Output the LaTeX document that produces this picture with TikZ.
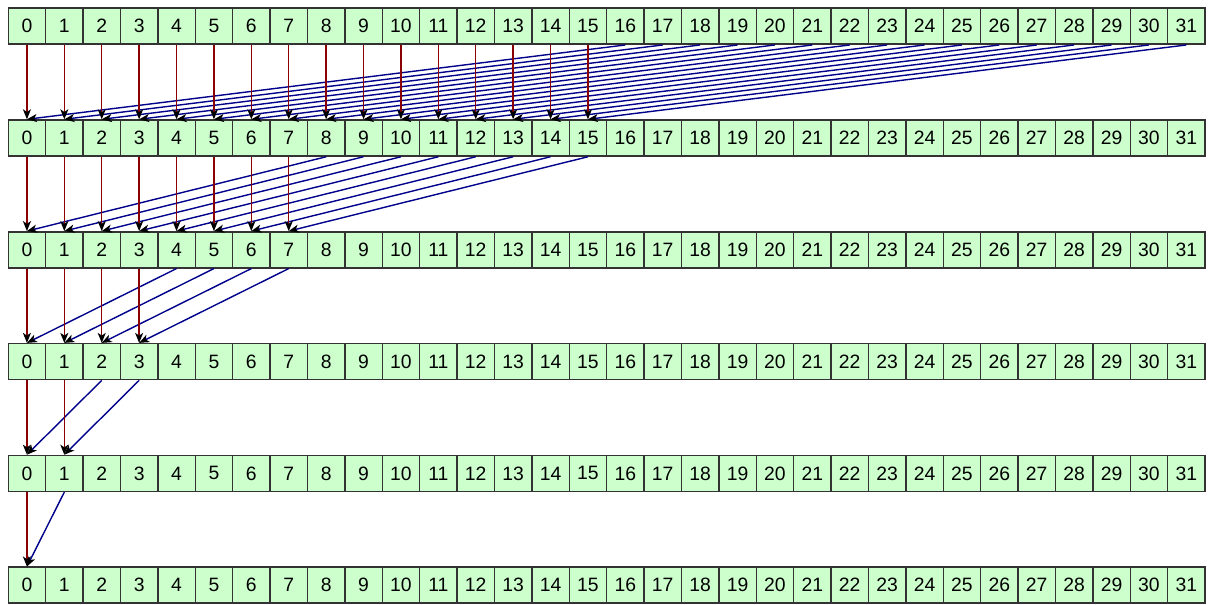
\documentclass[tikz,border=0pt]{standalone}
\usepackage{fontspec}
\setmainfont{Liberation Sans}
\usetikzlibrary{arrows.meta}
\definecolor{cellfill}{HTML}{CCFFCC}
\definecolor{redl}{HTML}{8B0000}
\definecolor{bluel}{HTML}{00008B}
\begin{document}
\begin{tikzpicture}[x=0.75pt,y=-0.75pt,
  cell/.style={draw=black!80, fill=cellfill, line width=1.1pt,
    minimum width=28.05pt, minimum height=27pt, inner sep=0pt,
    font=\fontsize{14.5}{15}\selectfont, anchor=north west},
  tip/.style={-{Stealth[length=7.5pt,width=6pt,inset=2pt,black]}},
  redarrow/.style={tip, draw=redl, line width=1.05pt},
  bluearrow/.style={tip, draw=bluel, line width=1.05pt}]
\useasboundingbox (0,0) rectangle (1211,605);
\foreach \r in {0,...,5}{
  \foreach \i in {0,...,31}{
    \node[cell] (c\r-\i) at ({7.5+37.4*\i},{7.5+111.8*\r}) {\i};
  }
}
\foreach \r/\h in {0/16,1/8,2/4,3/2,4/1}{
  \pgfmathtruncatemacro\rn{\r+1}
  \pgfmathtruncatemacro\hm{\h-1}
  \foreach \i in {0,...,\hm}{
    \pgfmathtruncatemacro\j{\i+\h}
    \draw[bluearrow] (c\r-\j.south) -- (c\rn-\i.north);
  }
  \foreach \i in {0,...,\hm}{
    \draw[redarrow] (c\r-\i.south) -- (c\rn-\i.north);
  }
}
\end{tikzpicture}
\end{document}
